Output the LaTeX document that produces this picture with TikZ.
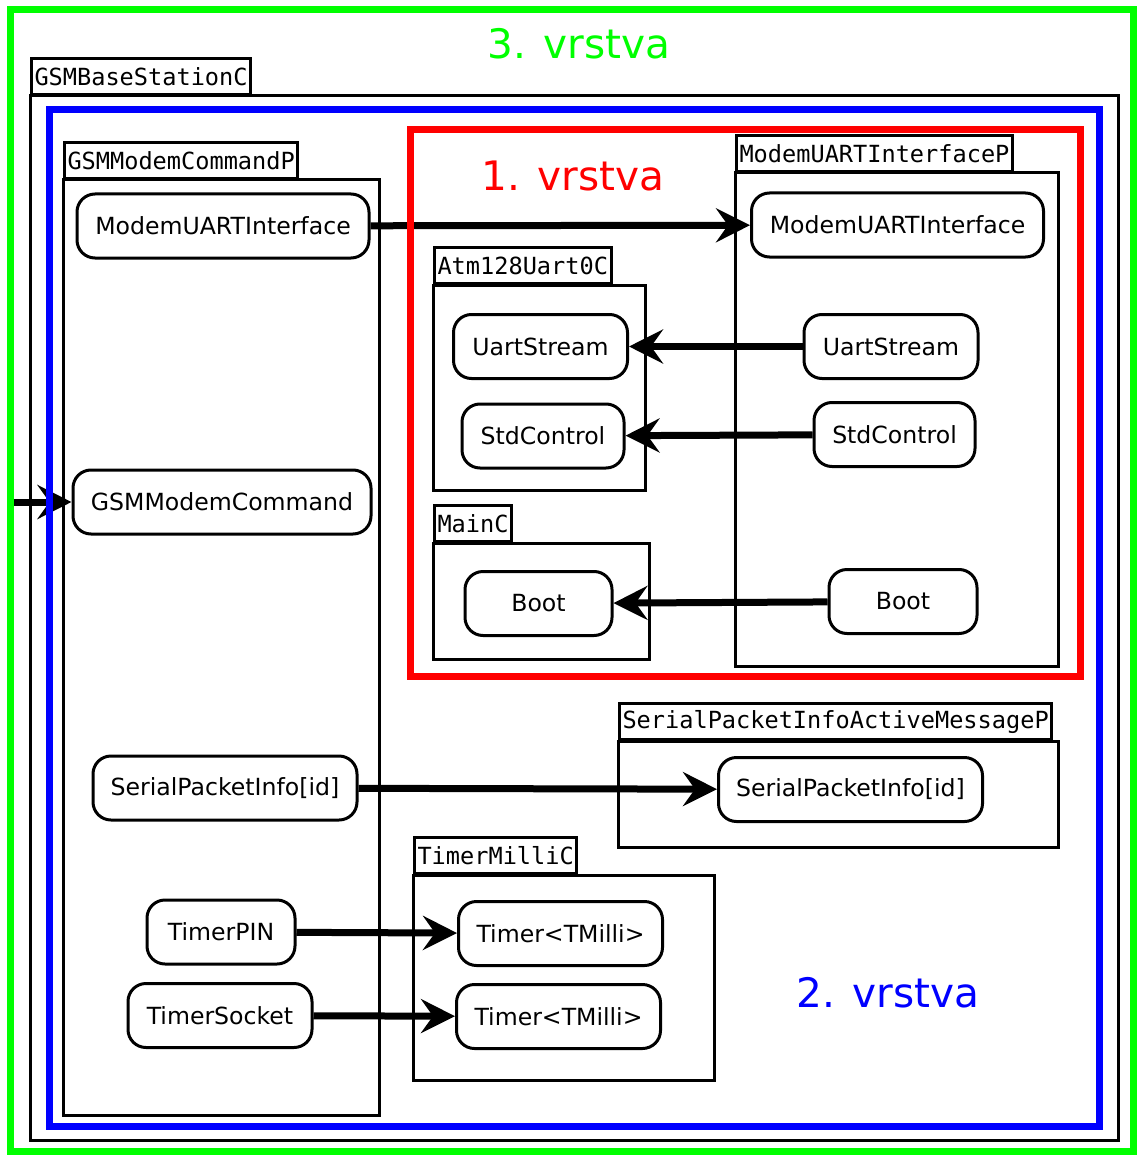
\documentclass[tikz,border=0pt]{standalone}
\usepackage{fontspec}
\newfontfamily\ifacefont{DejaVu Sans}
\newfontfamily\tabfont{DejaVu Sans Mono}
\usetikzlibrary{arrows.meta}
\definecolor{capauno}{RGB}{255,0,0}
\definecolor{capados}{RGB}{0,0,255}
\definecolor{capatres}{RGB}{0,255,0}
\pgfdeclarelayer{fondo}
\pgfsetlayers{fondo,main}

\begin{document}
\begin{tikzpicture}[x=.5pt,y=-.5pt,
  iface/.style={draw,line width=1.5pt,rounded corners=9pt,inner sep=0pt,
    minimum height=32pt,font=\fontsize{11.8}{13}\ifacefont},
  tab/.style={draw,line width=1.5pt,anchor=south west,inner xsep=1.5pt,
    inner ysep=0pt,minimum height=18pt,font=\fontsize{11.8}{13}\tabfont},
  caja/.style={line width=1.5pt},
  capa/.style={line width=3.5pt},
  rotulo/.style={font=\fontsize{20.3}{24}\ifacefont},
  conector/.style={line width=3.5pt,-{Stealth[length=17pt,width=17pt,inset=6pt]}}]
\useasboundingbox (0,0) rectangle (1137,1155);
%
% componentes
\draw[caja] (30,96) rectangle (1118,1140);
\node[tab] (tbase) at (30,96) {GSMBaseStationC};
\draw[caja] (63,180) rectangle (379,1115);
\node[tab] (tcmd) at (63,180) {GSMModemCommandP};
\draw[caja] (735,173) rectangle (1058,666);
\node[tab] (tuart) at (735,173) {ModemUARTInterfaceP};
\draw[caja] (433,285) rectangle (645,490);
\node[tab] (tatm) at (433,285) {Atm128Uart0C};
\draw[caja] (433,543) rectangle (649,659);
\node[tab] (tmain) at (433,543) {MainC};
\draw[caja] (618,741) rectangle (1058,847);
\node[tab] (tspi) at (618,741) {SerialPacketInfoActiveMessageP};
\draw[caja] (413,875) rectangle (714,1080);
\node[tab] (ttimer) at (413,875) {TimerMilliC};
%
% interfaces
\node[iface,minimum width=146pt] (mui1) at (223,226) {ModemUARTInterface};
\node[iface,minimum width=146pt] (mui2) at (897.5,225) {ModemUARTInterface};
\node[iface,minimum width=87pt] (us1) at (540.5,346.5) {UartStream};
\node[iface,minimum width=87pt] (us2) at (891,346.5) {UartStream};
\node[iface,minimum width=81pt] (sc1) at (543,436) {StdControl};
\node[iface,minimum width=80.5pt] (sc2) at (894.5,434.5) {StdControl};
\node[iface,minimum width=73.5pt] (boot1) at (538.5,603.5) {Boot};
\node[iface,minimum width=74pt] (boot2) at (903,601.5) {Boot};
\node[iface,minimum width=149pt] (gmc) at (222,502) {GSMModemCommand};
\node[iface,minimum width=132pt] (spi1) at (225,788) {SerialPacketInfo[id]};
\node[iface,minimum width=132pt] (spi2) at (850.5,789.5) {SerialPacketInfo[id]};
\node[iface,minimum width=74pt] (tpin) at (221,932) {TimerPIN};
\node[iface,minimum width=92pt] (tsock) at (220,1015.5) {TimerSocket};
\node[iface,minimum width=102pt] (tm1) at (560.5,933.5) {Timer<TMilli>};
\node[iface,minimum width=102pt] (tm2) at (558.5,1016.5) {Timer<TMilli>};
\coordinate (ext) at (12,502);
%
% conexiones
\begin{pgfonlayer}{fondo}
\foreach \desde/\hasta in {mui1/mui2,us2/us1,sc2/sc1,boot2/boot1,
  spi1/spi2,tpin/tm1,tsock/tm2,ext/gmc}
\draw[conector] (\desde) -- (\hasta);
\end{pgfonlayer}
%
% capas
\draw[capa,capatres] (10.5,10) rectangle (1133.5,1151.5);
\draw[capa,capados] (49,110) rectangle (1099,1126);
\draw[capa,capauno] (410,130) rectangle (1080,676);
\node[rotulo,text=capatres] (l3) at (579,44) {3. vrstva};
\node[rotulo,text=capauno] (l1) at (573,176) {1. vrstva};
\node[rotulo,text=capados] (l2) at (888,993) {2. vrstva};
\end{tikzpicture}
\end{document}
